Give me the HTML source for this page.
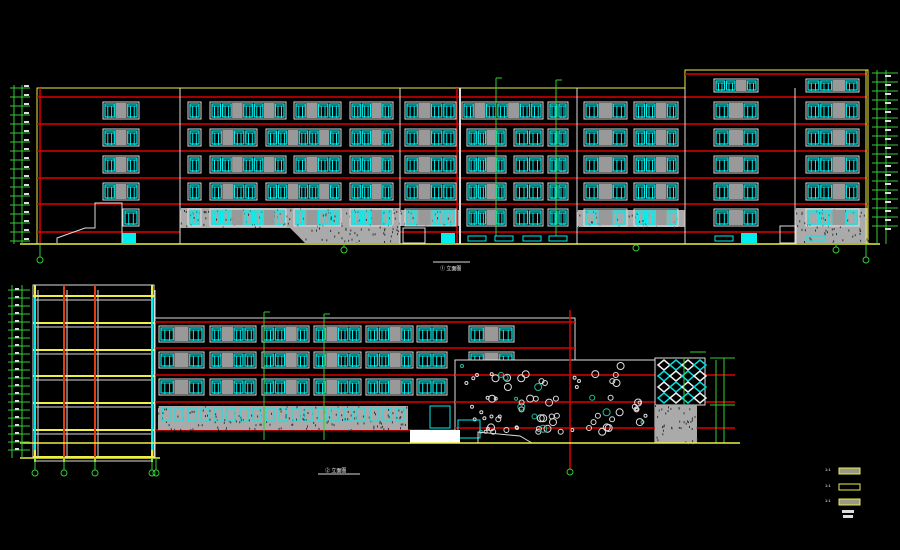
<!DOCTYPE html>
<html><head><meta charset="utf-8"><style>
html,body{margin:0;padding:0;background:#000;width:900px;height:550px;overflow:hidden}
svg{display:block}
text{font-family:"Liberation Sans","Noto Sans CJK SC",sans-serif;fill:#fff}
</style></head><body>
<svg id="s" width="900" height="550" viewBox="0 0 900 550" xmlns="http://www.w3.org/2000/svg">
<rect width="900" height="550" fill="#000"/>
<g id="g"></g>
<text x="440" y="270" font-size="5">① 立面图</text>
<text x="325" y="472" font-size="5">② 立面图</text>
<text x="825" y="471" font-size="4">1:1</text>
<text x="825" y="487" font-size="4">1:1</text>
<text x="825" y="502" font-size="4">1:1</text>
</svg>
<script>
var g=document.getElementById('g'),o='';
function L(x1,y1,x2,y2,c,w){o+='<line x1="'+x1+'" y1="'+y1+'" x2="'+x2+'" y2="'+y2+'" stroke="'+c+'" stroke-width="'+(w||1)+'"/>';}
function R(x,y,w,h,f,s,sw){o+='<rect x="'+x+'" y="'+y+'" width="'+w+'" height="'+h+'" fill="'+(f||'none')+'" stroke="'+(s||'none')+'" stroke-width="'+(sw||1)+'"/>';}
function C(x,y,r,c){o+='<circle cx="'+x+'" cy="'+y+'" r="'+r+'" fill="none" stroke="'+c+'" stroke-width="1"/>';}
function W(x1,x2,y,h,units){var tot=x2-x1,uw=tot/units.length,cx=x1;R(x1-1,y-1,tot+2,h+2,'none','#ddd',1);
 for(var i=0;i<units.length;i++){if(units[i]=='g'){R(cx.toFixed(1),y,uw.toFixed(1),h,'#999');}else{R((cx+1).toFixed(1),y+1,(uw-2).toFixed(1),h-2,'none','#0ee',1.2);L((cx+uw/3).toFixed(1),y+3,(cx+uw/3).toFixed(1),y+h,'#0ee');L((cx+2*uw/3).toFixed(1),y+3,(cx+2*uw/3).toFixed(1),y+h,'#0ee');L(cx+1,y+3,cx+uw-1,y+3,'#0ee');}cx+=uw;}}
function hatch(x,y,w,h){R(x,y,w,h,'#aaa');for(var i=0;i<w*h/40;i++){var a=x+Math.abs(Math.sin(i*12.9898)*43758)%w,b=y+Math.abs(Math.sin(i*78.233)*12345)%h;R(a.toFixed(1),b.toFixed(1),1,2,'#333');}}
// ===== TOP ELEVATION =====
R(37,88,648,156,'#000','#ee4');
R(685,70,183,174,'#000','#ee4');
[97,124,151,178,204,232].forEach(function(y){L(37,y,868,y,'#d00',1.5);});
L(685,74,868,74,'#d00',1.5);
// ground hatches
o+='<polygon points="180,208 400,208 400,243 305,243 290,228 180,228" fill="#aaa"/>';
hatch(180,208,120,19);hatch(300,208,100,35);
hatch(400,210,60,16);hatch(577,210,108,17);hatch(795,208,73,35);
o+='<polygon points="180,228 290,228 305,243 180,243" fill="#000"/>';
[180,400,577,685,795].forEach(function(x){L(x,88,x,244,'#ddd');});
L(460,88,460,244,'#ddd',2);L(457,88,457,244,'#d00',1.5);L(40,88,40,244,'#d00',1.5);L(866,70,866,244,'#ee4');
[103,130,157,184,210].forEach(function(y,ri){
 if(ri<4)W(104,138,y,15,['w','g','w']);else W(124,138,y,15,['w']);
 W(189,200,y,15,['w']);
 if(ri%2==0){W(211,285,y,15,['w','w','g','w','w','g','w']);W(295,340,y,15,['w','g','w','w']);}else{W(211,256,y,15,['w','g','w','w']);W(267,340,y,15,['w','w','g','w','w','g','w']);}
 W(351,392,y,15,['w','w','g','w']);
 W(406,455,y,15,['w','g','w','w']);
 if(ri==0)W(463,542,y,15,['w','g','w','w','g','w','w']);else{W(468,505,y,15,['w','w','g','w']);W(515,542,y,15,['w','w'])}
 W(549,567,y,15,['w','w']);
 W(585,626,y,15,['w','g','w']);W(635,677,y,15,['w','w','g','w']);
 W(715,757,y,15,['w','g','w']);W(807,858,y,15,['w','w','g','w']);
});
W(715,757,80,11,['w','w','g','w']);W(807,858,80,11,['w','w','g','w']);
R(122,233,14,10,'#0ee');R(441,233,14,10,'#0ee');R(741,233,16,10,'#0ee');
R(403,228,22,15,'none','#ddd');R(780,226,16,17,'none','#ddd');
[468,495,523,549].forEach(function(x){R(x,236,18,5,'none','#0ee');});
[715,807].forEach(function(x){R(x,236,18,5,'none','#0ee');});
o+='<polyline points="57,243 57,238 85,228 95,228 95,203 122,203 122,243" fill="none" stroke="#ddd"/>';
L(20,244,880,244,'#ee4',1.5);
L(14,85,14,244,'#3c3');L(22,85,22,244,'#3c3');L(877,70,877,244,'#3c3');L(886,70,886,244,'#3c3');
for(var y=88;y<245;y+=9){L(10,y,30,y,'#3c3');L(872,y-15,898,y-15,'#3c3');R(24,y-3,5,2,'#ddd');R(885,y-13,6,2,'#ddd');}
[[40,260],[344,250],[636,248],[836,250],[866,260]].forEach(function(p){L(p[0],244,p[0],p[1]-3,'#3c3');C(p[0],p[1],3,'#3c3');});
L(496,78,496,236,'#3c3');L(556,80,556,236,'#3c3');L(496,78,502,78,'#3c3');L(556,80,562,80,'#3c3');
L(433,262,470,262,'#ddd');
// ===== BOTTOM ELEVATION =====
R(33,285,121,173,'#000','#ddd');
[296,323,350,376,403,430,457].forEach(function(y){L(33,y,155,y,'#ee4',2);L(36,y+4,152,y+4,'#ddd');});
[35,64,95,152].forEach(function(x){L(x,285,x,462,'#ee4',2);L(x+3,290,x+3,458,'#ddd');});
[64,95].forEach(function(x){L(x,285,x,458,'#d00',1.5);});
L(35,298,35,450,'#0ee',2);L(152,298,152,450,'#0ee',2);
R(155,318,420,125,'#000','#ddd');
[322,348,375,402,430].forEach(function(y){L(155,y,575,y,'#d00',1.5);});
[327,353,380].forEach(function(y,ri){
 W(160,203,y,14,['w','g','w']);W(211,255,y,14,['w','g','w','w']);W(263,308,y,14,['w','w','g','w']);
 W(315,360,y,14,['w','g','w','w']);W(367,412,y,14,['w','w','g','w']);W(418,446,y,14,['w','w']);
 if(ri<2)W(470,513,y,14,['w','g','w']);
});
o+='<polygon points="158,406 408,406 408,430 275,430 250,422 158,422" fill="#aaa"/>';
hatch(158,406,250,24);
for(var x=162;x<405;x+=13)R(x,408,8,13,'none','#0ee');
R(455,360,200,83,'#000','#ddd');
L(455,375,735,375,'#d00',1.5);L(455,402,735,402,'#d00',1.5);L(455,428,735,428,'#d00',1.5);
for(var i=0;i<80;i++){var cx=462+Math.abs(Math.sin(i*3.7)*1000)%188,cy=366+Math.abs(Math.sin(i*7.1)*1000)%72;C(cx.toFixed(1),cy.toFixed(1),(1.5+(i%3)).toFixed(1),i%7==0?'#2b9':'#ddd');}
R(430,406,20,22,'none','#0ee');R(458,420,22,18,'none','#0ee');
R(410,430,50,13,'#fff');
o+='<polyline points="478,443 478,432 520,436 532,443" fill="none" stroke="#ddd"/>';
R(655,358,50,47,'#000','#ddd');
for(var d=0;d<4;d++)for(var e=0;e<4;e++){var dx=658+d*12,dy=360+e*11;o+='<polygon points="'+dx+','+(dy+5)+' '+(dx+6)+','+dy+' '+(dx+12)+','+(dy+5)+' '+(dx+6)+','+(dy+10)+'" fill="none" stroke="'+((d+e)%2?'#0dd':'#eee')+'" stroke-width="1.5"/>';}
hatch(655,405,42,38);
L(570,310,570,470,'#d00',1.5);C(570,472,3,'#3c3');
L(264,312,264,440,'#3c3');L(324,314,324,440,'#3c3');L(264,312,270,312,'#3c3');L(324,314,330,314,'#3c3');
L(684,358,684,405,'#3c3');L(690,352,706,352,'#3c3');
L(716,360,716,443,'#3c3');L(724,358,724,443,'#3c3');L(710,358,735,358,'#3c3');L(710,405,735,405,'#3c3');L(710,443,735,443,'#3c3');
L(20,443,740,443,'#ee4',1.5);L(20,458,160,458,'#ee4',1.5);
L(12,285,12,458,'#3c3');L(22,285,22,458,'#3c3');
for(var y=290;y<458;y+=8){L(8,y,30,y,'#3c3');R(15,y-2,4,2,'#ddd');}
[35,64,95,152,156].forEach(function(x){L(x,458,x,470,'#3c3');C(x,473,3,'#3c3');});
L(318,474,360,474,'#ddd');
R(839,468,21,6,'#998','#ee4');R(839,484,21,6,'#000','#ee4');R(839,499,21,6,'#998','#ee4');
R(842,510,12,3,'#ddd');R(843,515,10,3,'#ddd');
g.innerHTML=o;
</script>
</body></html>
